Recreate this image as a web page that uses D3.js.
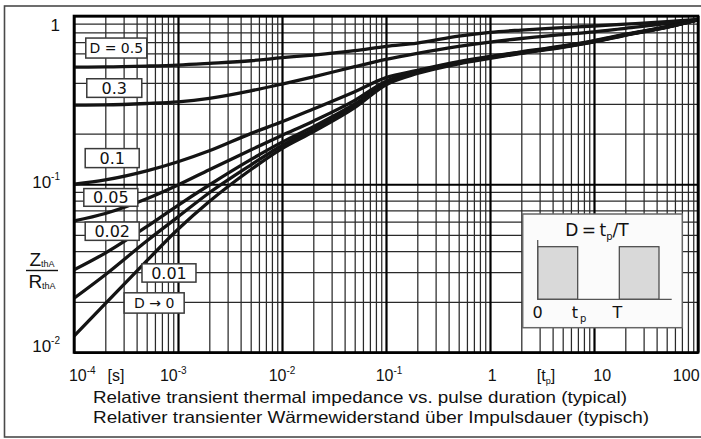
<!DOCTYPE html>
<html><head><meta charset="utf-8">
<script src="https://cdn.jsdelivr.net/npm/d3@7"></script>
<style>body{margin:0;background:#fff}svg{display:block}</style>
</head><body><svg id="c" width="701" height="439"></svg>
<script>
// ---------- data ----------
const tSamples = [1e-4,2e-4,5e-4,1e-3,2e-3,5e-3,1e-2,2e-2,5e-2,0.1,0.2,0.5,1,2,5,10,20,50,100];
const zD050 = [0.497,0.498,0.504,0.511,0.523,0.542,0.565,0.586,0.622,0.66,0.69,0.76,0.80,0.825,0.852,0.872,0.894,0.925,0.955];
const zD030 = [0.295,0.296,0.302,0.309,0.324,0.359,0.394,0.435,0.50,0.552,0.60,0.66,0.70,0.735,0.775,0.805,0.845,0.90,0.952];
const zD010 = [0.100,0.106,0.120,0.136,0.158,0.200,0.235,0.280,0.355,0.43,0.475,0.535,0.575,0.612,0.665,0.715,0.78,0.865,0.95];
const zD005 = [0.0605,0.067,0.082,0.099,0.122,0.160,0.195,0.237,0.315,0.41,0.468,0.53,0.57,0.608,0.66,0.71,0.775,0.862,0.95];
const zD002 = [0.031,0.039,0.056,0.075,0.099,0.140,0.178,0.220,0.300,0.40,0.462,0.527,0.567,0.605,0.657,0.707,0.772,0.86,0.95];
const zD001 = [0.021,0.029,0.046,0.064,0.089,0.130,0.170,0.212,0.290,0.395,0.46,0.525,0.565,0.603,0.655,0.705,0.77,0.858,0.95];
const zD000 = [0.0125,0.0195,0.035,0.054,0.079,0.122,0.163,0.205,0.285,0.39,0.455,0.52,0.56,0.60,0.652,0.702,0.767,0.855,0.95];
const seriesList = [zD050,zD030,zD010,zD005,zD002,zD001,zD000];

const curveLabels = ["D = 0.5","0.3","0.1","0.05","0.02","0.01","D \u2192 0"];
const labelAnchorT = [2.55e-4,2.44e-4,2.33e-4,2.26e-4,2.33e-4,8.19e-4,5.9e-4];
const labelAnchorZ = [0.645,0.373,0.143,0.0835,0.0526,0.0297,0.0197];

const xDecades = [1e-4,1e-3,1e-2,1e-1,1,10,100];
const yDecades = [0.01,0.1,1];
const xTickT = [1.2e-4,2.53e-4,9e-4,1e-2,1.07e-1,1.05,3.45,12,77];
const xTickBase = ["10","[s]","10","10","10","1","[t","10","100"];
const xTickSup = ["-4","","-3","-2","-1","","","",""];
const yTickZ = [1,0.1,0.01];
const yTickBase = ["1","10","10"];
const yTickSup = ["","-1","-2"];
const caption1 = "Relative transient thermal impedance vs. pulse duration (typical)";
const caption2 = "Relativer transienter Wärmewiderstand über Impulsdauer (typisch)";

// ---------- layout ----------
const svg = d3.select("#c");
const P = {left:74, top:16, right:698, bottom:352.5};
const x = d3.scaleLog().domain([1e-4,100]).range([P.left,P.right]);
const y = d3.scaleLog().domain([0.01,1]).range([P.bottom,P.top]);
const FONT = "'Liberation Sans', Arial, sans-serif";
const LFONT = "'DejaVu Sans', Verdana, sans-serif";

// outer frame
svg.append("rect").attr("x",4.5).attr("y",6).attr("width",702).attr("height",431)
  .attr("fill","#fff").attr("stroke","#4a4a4a").attr("stroke-width",1.6);

// minor ticks
const minorX = [];
for (let e=-4;e<=1;e++) for (let k=2;k<=9;k++) minorX.push(k*Math.pow(10,e));
const minorY = [];
for (let e=-2;e<=-1;e++) for (let k=2;k<=9;k++) minorY.push(k*Math.pow(10,e));
const ph = P.bottom-P.top, pw = P.right-P.left;

const gx = svg.append("g").attr("transform",`translate(0,${P.bottom})`)
  .call(d3.axisBottom(x).tickValues(minorX).tickSize(-ph).tickFormat(""));
const gy = svg.append("g").attr("transform",`translate(${P.left},0)`)
  .call(d3.axisLeft(y).tickValues(minorY).tickSize(-pw).tickFormat(""));
[gx,gy].forEach(g=>{g.select(".domain").remove();
  g.selectAll(".tick line").attr("stroke","#2a2a2a").attr("stroke-width",1.25);});

const gX = svg.append("g").attr("transform",`translate(0,${P.bottom})`)
  .call(d3.axisBottom(x).tickValues(xDecades).tickSize(-ph).tickFormat(""));
const gY = svg.append("g").attr("transform",`translate(${P.left},0)`)
  .call(d3.axisLeft(y).tickValues(yDecades).tickSize(-pw).tickFormat(""));
[gX,gY].forEach(g=>{g.select(".domain").remove();
  g.selectAll(".tick line").attr("stroke","#000").attr("stroke-width",2.2);});

// curves
svg.append("clipPath").attr("id","clp").append("rect")
  .attr("x",P.left).attr("y",P.top).attr("width",pw).attr("height",ph);
const line = d3.line().x(d=>x(d[0])).y(d=>y(d[1])).curve(d3.curveMonotoneX);
svg.append("g").attr("clip-path","url(#clp)").selectAll("path").data(seriesList).join("path")
  .attr("d",s=>line(tSamples.map((t,i)=>[t,s[i]])))
  .attr("fill","none").attr("stroke","#141414").attr("stroke-width",3.3).attr("stroke-linecap","round");

// plot border
svg.append("rect").attr("x",P.left).attr("y",P.top).attr("width",pw).attr("height",ph)
  .attr("fill","none").attr("stroke","#000").attr("stroke-width",2.6);

// curve labels
const boxW = [61,55,54,54,54,54,60], boxH=[20,18.6,19,17.7,18.3,18.3,20.3];
const fs = [14,16,16,16,16,16,14];
curveLabels.forEach((txt,i)=>{
  const cx=x(labelAnchorT[i]), cy=y(labelAnchorZ[i]);
  svg.append("rect").attr("x",cx-boxW[i]/2).attr("y",cy-boxH[i]/2).attr("width",boxW[i]).attr("height",boxH[i])
    .attr("fill","#fff").attr("stroke","#3a3a3a").attr("stroke-width",1.5);
  svg.append("text").attr("x",cx).attr("y",cy).attr("dy","0.36em").attr("text-anchor","middle")
    .attr("font-family",LFONT).attr("font-size",fs[i]).attr("fill","#111").text(txt);
});

// inset
const ins = svg.append("g");
ins.append("rect").attr("x",522.7).attr("y",214).attr("width",159.6).attr("height",113.7)
  .attr("fill","#fbfbfb").attr("stroke","#666").attr("stroke-width",1.5);
ins.append("text").attr("x",597).attr("y",236).attr("text-anchor","middle").attr("font-family",LFONT)
  .attr("font-size",17).attr("fill","#111")
  .call(t=>{t.append("tspan").text("D\u2009=\u2009t");t.append("tspan").attr("font-size",10).attr("dy",4).text("p");
    t.append("tspan").attr("dy",-4).text("/T");});
ins.append("rect").attr("x",537.7).attr("y",246.7).attr("width",40).attr("height",52.6)
  .attr("fill","#d9d9d9").attr("stroke","#444").attr("stroke-width",1.2);
ins.append("rect").attr("x",619.3).attr("y",246.7).attr("width",39.7).attr("height",52.6)
  .attr("fill","#d9d9d9").attr("stroke","#444").attr("stroke-width",1.2);
ins.append("line").attr("x1",537.7).attr("x2",671.7).attr("y1",299.3).attr("y2",299.3).attr("stroke","#555").attr("stroke-width",1.3);
ins.append("line").attr("x1",537.7).attr("x2",537.7).attr("y1",240).attr("y2",299.3).attr("stroke","#555").attr("stroke-width",1.3);
ins.append("text").attr("x",537.7).attr("y",318).attr("text-anchor","middle").attr("font-family",LFONT).attr("font-size",16).attr("fill","#111").text("0");
ins.append("text").attr("x",579).attr("y",318).attr("text-anchor","middle").attr("font-family",LFONT).attr("font-size",16).attr("fill","#111")
  .call(t=>{t.append("tspan").text("t");t.append("tspan").attr("font-size",10).attr("dy",4).attr("dx",2).text("p");});
ins.append("text").attr("x",617.5).attr("y",318).attr("text-anchor","middle").attr("font-family",LFONT).attr("font-size",16).attr("fill","#111").text("T");

// x tick labels
xTickT.forEach((t,i)=>{
  const tx = svg.append("text").attr("x",x(t)).attr("y",381).attr("text-anchor","middle")
    .attr("font-family",FONT).attr("font-size",16).attr("fill","#111");
  tx.append("tspan").text(xTickBase[i]);
  if (xTickSup[i]) tx.append("tspan").attr("font-size",10).attr("dy",-7).text(xTickSup[i]);
  if (xTickBase[i]==="[t"){tx.append("tspan").attr("font-size",9).attr("dy",3).text("p");
    tx.append("tspan").attr("dy",-3).text("]");}
});
// y tick labels
const yOff = [14.7,4,-0.5];
yTickZ.forEach((z,i)=>{
  const tx = svg.append("text").attr("x",60).attr("y",y(z)+yOff[i]).attr("text-anchor","end")
    .attr("font-family",FONT).attr("font-size",17).attr("fill","#111");
  tx.append("tspan").text(yTickBase[i]);
  if (yTickSup[i]) tx.append("tspan").attr("font-size",10).attr("dy",-8).text(yTickSup[i]);
});
// Y axis title fraction
const yt = svg.append("g").attr("font-family",FONT).attr("fill","#111");
yt.append("text").attr("x",42).attr("y",266).attr("text-anchor","middle").attr("font-size",19)
  .call(t=>{t.append("tspan").text("Z");t.append("tspan").attr("font-size",9).attr("dy",1).text("thA");});
yt.append("line").attr("x1",26).attr("x2",58).attr("y1",270.5).attr("y2",270.5).attr("stroke","#111").attr("stroke-width",1.4);
yt.append("text").attr("x",42).attr("y",288).attr("text-anchor","middle").attr("font-size",19)
  .call(t=>{t.append("tspan").text("R");t.append("tspan").attr("font-size",9).attr("dy",1).text("thA");});

// captions
svg.append("text").attr("x",93).attr("y",403).attr("font-family",FONT).attr("font-size",16.5).attr("fill","#111")
  .attr("textLength",534).attr("lengthAdjust","spacingAndGlyphs").text(caption1);
svg.append("text").attr("x",93).attr("y",423).attr("font-family",FONT).attr("font-size",16.5).attr("fill","#111")
  .attr("textLength",556).attr("lengthAdjust","spacingAndGlyphs").text(caption2);
</script></body></html>
